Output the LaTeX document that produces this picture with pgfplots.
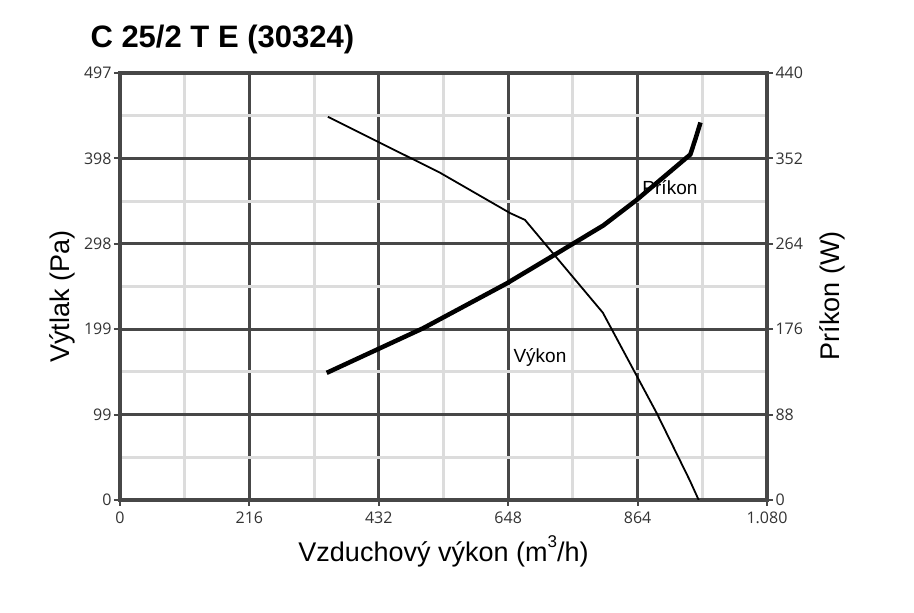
\documentclass[border=0pt]{standalone}
\usepackage{pgfplots}
\pgfplotsset{compat=1.18}
\usepackage{fontspec}
\setmainfont{Liberation Sans}
\newfontfamily\tickfont{Open Sans}
\definecolor{majorc}{HTML}{474747}
\definecolor{minorc}{HTML}{DCDCDC}
\definecolor{tickc}{HTML}{333333}
\newcommand{\tickfontsize}{\tickfont\fontsize{16}{16}\selectfont}

\pgfplotsset{
  base/.style={
    scale only axis, width=647pt, height=427pt,
    xmin=0, xmax=1080,
    tick align=outside, major tick length=6pt, minor tick length=0pt,
    tick style={majorc, line width=2pt},
    axis line style={majorc, line width=4pt},
    every tick label/.append style={font=\tickfontsize, text=tickc},
    /pgf/number format/assume math mode=true,
  },
}

\begin{document}
\begin{tikzpicture}
\useasboundingbox (-120pt,-113pt) rectangle (794pt,500pt);
\begin{axis}[base,
  ymin=0, ymax=497,
  xtick={0,216,432,648,864,1080},
  xticklabels={0,216,432,648,864,1.080},
  minor xtick={108,324,540,756,972},
  ytick={0,99.4,198.8,298.2,397.6,497},
  yticklabels={0,99,199,298,398,497},
  minor ytick={49.7,149.1,248.5,347.9,447.3},
  xtick pos=bottom, ytick pos=left,
  grid=both,
  major grid style={majorc, line width=3pt},
  minor grid style={minorc, line width=3pt},
  xticklabel style={yshift=-2pt},
  yticklabel style={xshift=1pt},
]
% Vykon (Pa)
\addplot[black, line width=1.8pt, line join=round] coordinates {
  (347,446) (534,381) (651,334) (676,326) (806,218) (896,101) (951,23) (966,0)
};
\node[font=\fontsize{19}{19}\selectfont] at (axis cs:701,166) {Výkon};
\node[font=\fontsize{19}{19}\selectfont] at (axis cs:918,364) {Príkon};
\end{axis}
\begin{axis}[base,
  ymin=0, ymax=440,
  axis x line=none, axis y line*=right,
  ytick={0,88,176,264,352,440},
  yticklabel style={xshift=-1pt},
]
% Prikon (W)
\addplot[black, line width=4.5pt, line join=round] coordinates {
  (345,131) (506,177) (645,223) (729,254) (807,283) (862,309) (952,356) (960,371) (969,389)
};
\end{axis}
\node[anchor=base west, font=\bfseries\fontsize{31}{31}\selectfont] at (-33pt,452pt) {C 25/2 T E (30324)};
\node[anchor=base, font=\fontsize{27}{27}\selectfont] at (323.5pt,-62pt) {Vzduchový výkon (m\raisebox{0.55em}{\fontsize{17}{17}\selectfont 3}/h)};
\node[rotate=90, anchor=base, font=\fontsize{27}{27}\selectfont] at (-50pt,203.5pt) {Výtlak (Pa)};
\node[rotate=90, anchor=base, font=\fontsize{27}{27}\selectfont] at (72pt+647pt,204pt) {Príkon (W)};
\end{tikzpicture}
\end{document}
